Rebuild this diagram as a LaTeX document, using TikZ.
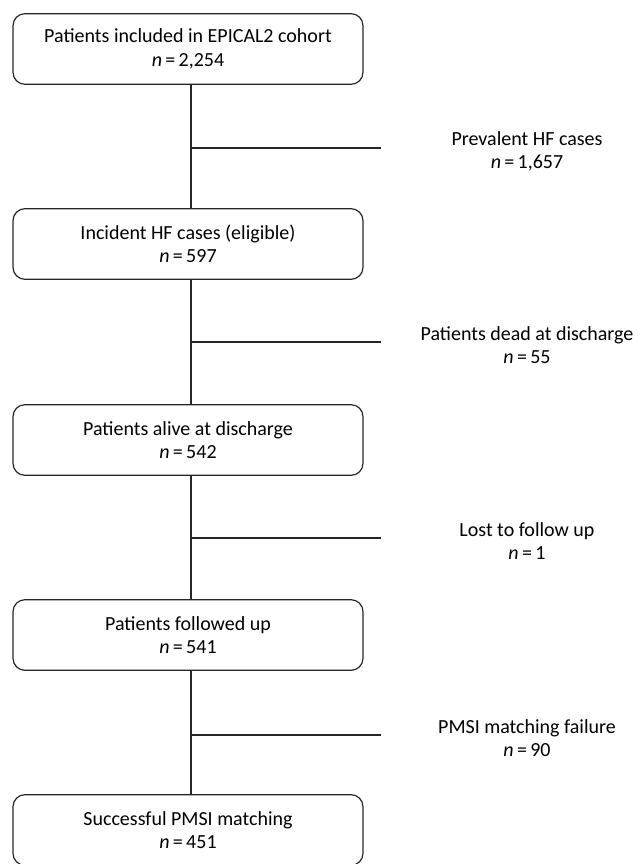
\documentclass[tikz,border=0pt]{standalone}
\usepackage{fontspec}
\setmainfont{Carlito}
\begin{document}
\begin{tikzpicture}[x=0.75pt,y=-0.75pt,
  box/.style={draw=black!85, line width=0.9pt, rounded corners=9pt, minimum width=262.5pt, minimum height=53pt, align=center, inner sep=0pt, font=\fontsize{15}{17.5}\selectfont},
  side/.style={align=center, inner sep=0pt, font=\fontsize{15}{17.5}\selectfont},
  conn/.style={draw=black!85, line width=0.9pt}]
\useasboundingbox (0,0) rectangle (640,864);
\node[box] (b1) at (188,49) {Patients included in EPICAL2 cohort\\\textit{n}\,=\,2,254};
\node[box] (b2) at (188,244) {Incident HF cases (eligible)\\\textit{n}\,=\,597};
\node[box] (b3) at (188,440) {Patients alive at discharge\\\textit{n}\,=\,542};
\node[box] (b4) at (188,635) {Patients followed up\\\textit{n}\,=\,541};
\node[box] (b5) at (188,830) {Successful PMSI matching\\\textit{n}\,=\,451};
\node[side] (s1) at (527,151) {Prevalent HF cases\\\textit{n}\,=\,1,657};
\node[side] (s2) at (527,345) {Patients dead at discharge\\\textit{n}\,=\,55};
\node[side] (s3) at (527,541) {Lost to follow up\\\textit{n}\,=\,1};
\node[side] (s4) at (527,738) {PMSI matching failure\\\textit{n}\,=\,90};
\coordinate (j1) at (191,148); \coordinate (e1) at (381,148);
\coordinate (j2) at (191,342); \coordinate (e2) at (381,342);
\coordinate (j3) at (191,538); \coordinate (e3) at (381,538);
\coordinate (j4) at (191,735); \coordinate (e4) at (381,735);
\draw[conn] (b1.south -| j1) -- (b2.north -| j1);
\draw[conn] (b2.south -| j2) -- (b3.north -| j2);
\draw[conn] (b3.south -| j3) -- (b4.north -| j3);
\draw[conn] (b4.south -| j4) -- (b5.north -| j4);
\draw[conn] (j1) -- (e1);
\draw[conn] (j2) -- (e2);
\draw[conn] (j3) -- (e3);
\draw[conn] (j4) -- (e4);
\end{tikzpicture}
\end{document}
